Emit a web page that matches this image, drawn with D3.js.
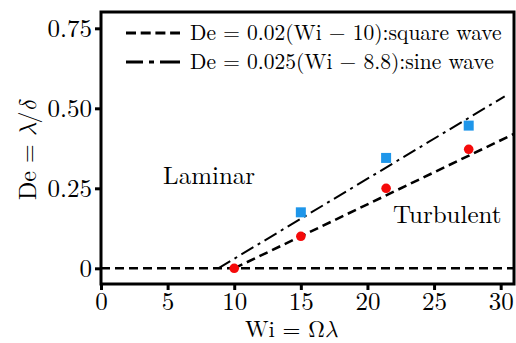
<!DOCTYPE html>
<html><head><meta charset="utf-8">
<script src="https://cdn.jsdelivr.net/npm/d3@7"></script>
<style>body{margin:0;background:#fff;}</style>
</head>
<body><svg id="c" width="516" height="343"></svg>
<script>
const xTicks = [0,5,10,15,20,25,30];
const yTicks = [0,0.25,0.5,0.75];
const yTickLabels = ["0","0.25","0.50","0.75"];
const squareWi = [10,15,21.4,27.6];
const squareDe = [0,0.1,0.25,0.372];
const sineWi = [15,21.4,27.6];
const sineDe = [0.175,0.345,0.446];
const squareFit = {a:0.02, w0:10, xEnd:31};
const sineFit = {a:0.025, w0:8.8, xEnd:30.3};
const legendLabels = ["De = 0.02(Wi \u2212 10):square wave","De = 0.025(Wi \u2212 8.8):sine wave"];

const FONT = "'Latin Modern Roman', 'Liberation Serif', serif";
const GREEK = "'Latin Modern Math', 'Liberation Serif', serif";
const svg = d3.select("#c");
const L=101,R=514,T=12,B=284;
const x = d3.scaleLinear().domain([0,31]).range([L,R]);
const y = d3.scaleLinear().domain([-0.049,0.801]).range([B,T]);

const line = d3.line().x(d=>x(d[0])).y(d=>y(d[1]));
svg.append("path").datum([[0,0],[31,0]]).attr("d",line)
  .attr("fill","none").attr("stroke","#000").attr("stroke-width",2.6).attr("stroke-dasharray","9,5");
svg.append("path").datum([[squareFit.w0,0],[squareFit.xEnd,squareFit.a*(squareFit.xEnd-squareFit.w0)]]).attr("d",line)
  .attr("fill","none").attr("stroke","#000").attr("stroke-width",2.6).attr("stroke-dasharray","9,5");
svg.append("path").datum([[sineFit.w0,0],[sineFit.xEnd,sineFit.a*(sineFit.xEnd-sineFit.w0)]]).attr("d",line)
  .attr("fill","none").attr("stroke","#000").attr("stroke-width",2).attr("stroke-dasharray","14,5,3,5");

svg.selectAll("rect.sq").data(sineWi.map((w,i)=>[w,sineDe[i]])).enter().append("rect")
  .attr("x",d=>x(d[0])-5).attr("y",d=>y(d[1])-5).attr("width",10).attr("height",10).attr("fill","#1e96ea");
svg.selectAll("circle.c").data(squareWi.map((w,i)=>[w,squareDe[i]])).enter().append("circle")
  .attr("cx",d=>x(d[0])).attr("cy",d=>y(d[1])).attr("r",4.8).attr("fill","#f50a0a");

svg.append("rect").attr("x",L).attr("y",T).attr("width",R-L).attr("height",B-T)
  .attr("fill","none").attr("stroke","#000").attr("stroke-width",3);

const xa = svg.append("g").attr("transform",`translate(0,${B})`)
  .call(d3.axisBottom(x).tickValues(xTicks).tickSize(6).tickPadding(2).tickFormat(d3.format("d")));
const ya = svg.append("g").attr("transform",`translate(${L},0)`)
  .call(d3.axisLeft(y).tickValues(yTicks).tickSize(6).tickPadding(3).tickFormat((d,i)=>yTickLabels[i]));
[xa,ya].forEach(g=>{
  g.select(".domain").remove();
  g.selectAll("line").attr("stroke","#000").attr("stroke-width",3);
  g.selectAll("text").attr("font-size",25).style("font-family",FONT).attr("fill","#000");
});

const xl = svg.append("text").attr("x",291).attr("y",337).attr("text-anchor","middle")
  .attr("font-size",23).style("font-family",FONT);
xl.append("tspan").text("Wi = ");
xl.append("tspan").style("font-family",GREEK).text("\u03A9");
xl.append("tspan").style("font-family",GREEK).attr("font-style","italic").text("\u03BB");
const yl = svg.append("text").attr("transform","translate(36,150) rotate(-90)").attr("text-anchor","middle")
  .attr("font-size",24).style("font-family",FONT);
yl.append("tspan").text("De = ");
yl.append("tspan").style("font-family",GREEK).attr("font-style","italic").text("\u03BB");
yl.append("tspan").text("/");
yl.append("tspan").style("font-family",GREEK).attr("font-style","italic").text("\u03B4");

svg.append("text").attr("x",163).attr("y",184).attr("font-size",25).style("font-family",FONT).text("Laminar");
svg.append("text").attr("x",393).attr("y",223).attr("font-size",25).style("font-family",FONT).text("Turbulent");

const lg = svg.append("g");
lg.append("line").attr("x1",126).attr("x2",180).attr("y1",33).attr("y2",33)
  .attr("stroke","#000").attr("stroke-width",3).attr("stroke-dasharray","10,4.7");
lg.append("line").attr("x1",126).attr("x2",180).attr("y1",62).attr("y2",62)
  .attr("stroke","#000").attr("stroke-width",3).attr("stroke-dasharray","17,6,5,6,20");
lg.selectAll("text.l").data(legendLabels).enter().append("text")
  .attr("x",190).attr("y",(d,i)=>40+i*29).attr("font-size",21.5).style("font-family",FONT).text(d=>d);
</script></body></html>
